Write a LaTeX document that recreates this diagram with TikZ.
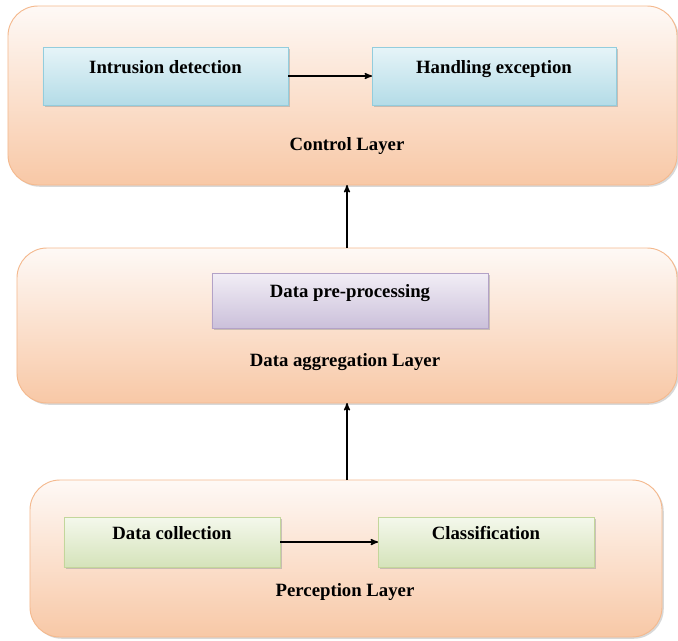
\documentclass[tikz,border=0pt]{standalone}
\usepackage{fontspec}
\setmainfont{Liberation Serif}
\usepackage{tikz}
\usetikzlibrary{arrows,shadows}
\usepackage{color}

\definecolor{layertop}{HTML}{FEF9F6}
\definecolor{layerbot}{HTML}{F8C8A6}
\definecolor{layerline}{HTML}{F4B98E}
\definecolor{bluetop}{HTML}{E6F4F8}
\definecolor{bluebot}{HTML}{B4DCE7}
\definecolor{blueline}{HTML}{93CDDD}
\definecolor{purptop}{HTML}{F2EEF6}
\definecolor{purpbot}{HTML}{CBC0DA}
\definecolor{purpline}{HTML}{B3A2C7}
\definecolor{greentop}{HTML}{F4F8EC}
\definecolor{greenbot}{HTML}{D5E3BA}
\definecolor{greenline}{HTML}{C3D69B}

\begin{document}
\begin{tikzpicture}[x=0.03cm, y=-0.03cm, >=stealth', thick,
  font=\bfseries\fontsize{16}{18}\selectfont]
  \tikzstyle{layer}=[draw=layerline, thick, rounded corners=0.9cm, outer sep=0pt,
    top color=layertop, bottom color=layerbot,
    drop shadow={shadow xshift=1.5pt, shadow yshift=-1.5pt, fill=black!30}]
  \tikzstyle{box}=[draw, thick, outer sep=0pt, text height=0.38cm, text depth=0.56cm,
    drop shadow={shadow xshift=1.5pt, shadow yshift=-1.5pt, fill=black!40}]
  \tikzstyle{bluebox}=[box, draw=blueline, top color=bluetop, bottom color=bluebot]
  \tikzstyle{purpbox}=[box, draw=purpline, top color=purptop, bottom color=purpbot]
  \tikzstyle{greenbox}=[box, draw=greenline, top color=greentop, bottom color=greenbot]
  \tikzstyle{link}=[->, line width=1.2pt]

  \useasboundingbox (0,0) rectangle (678,640);

  % layers
  \node[layer, minimum width=20.07cm, minimum height=5.37cm] (ctrl) at (342.5,95.5) {};
  \node[layer, minimum width=19.8cm, minimum height=4.65cm] (aggr) at (347,325.5) {};
  \node[layer, minimum width=18.96cm, minimum height=4.71cm] (perc) at (346,558.5) {};

  % control layer
  \node[bluebox, minimum width=7.35cm, minimum height=1.74cm] (intr) at (165.5,76) {Intrusion detection};
  \node[bluebox, minimum width=7.32cm, minimum height=1.74cm] (hand) at (494,76) {Handling exception};
  \node (ctrlname) at (347,146) {Control Layer};

  % data aggregation layer
  \node[purpbox, minimum width=8.28cm, minimum height=1.65cm] (prep) at (350,300.5) {Data pre-processing};
  \node (aggrname) at (345,362) {Data aggregation Layer};

  % perception layer
  \node[greenbox, minimum width=6.48cm, minimum height=1.5cm] (coll) at (172,542) {Data collection};
  \node[greenbox, minimum width=6.48cm, minimum height=1.5cm] (clas) at (486,542) {Classification};
  \node (percname) at (345,592) {Perception Layer};

  \path[link] (intr) edge (hand)
              (coll) edge (clas);
  \draw[link] (aggr.north) -- (aggr.north |- ctrl.south);
  \draw[link] (aggr.south |- perc.north) -- (aggr.south);
\end{tikzpicture}
\end{document}
